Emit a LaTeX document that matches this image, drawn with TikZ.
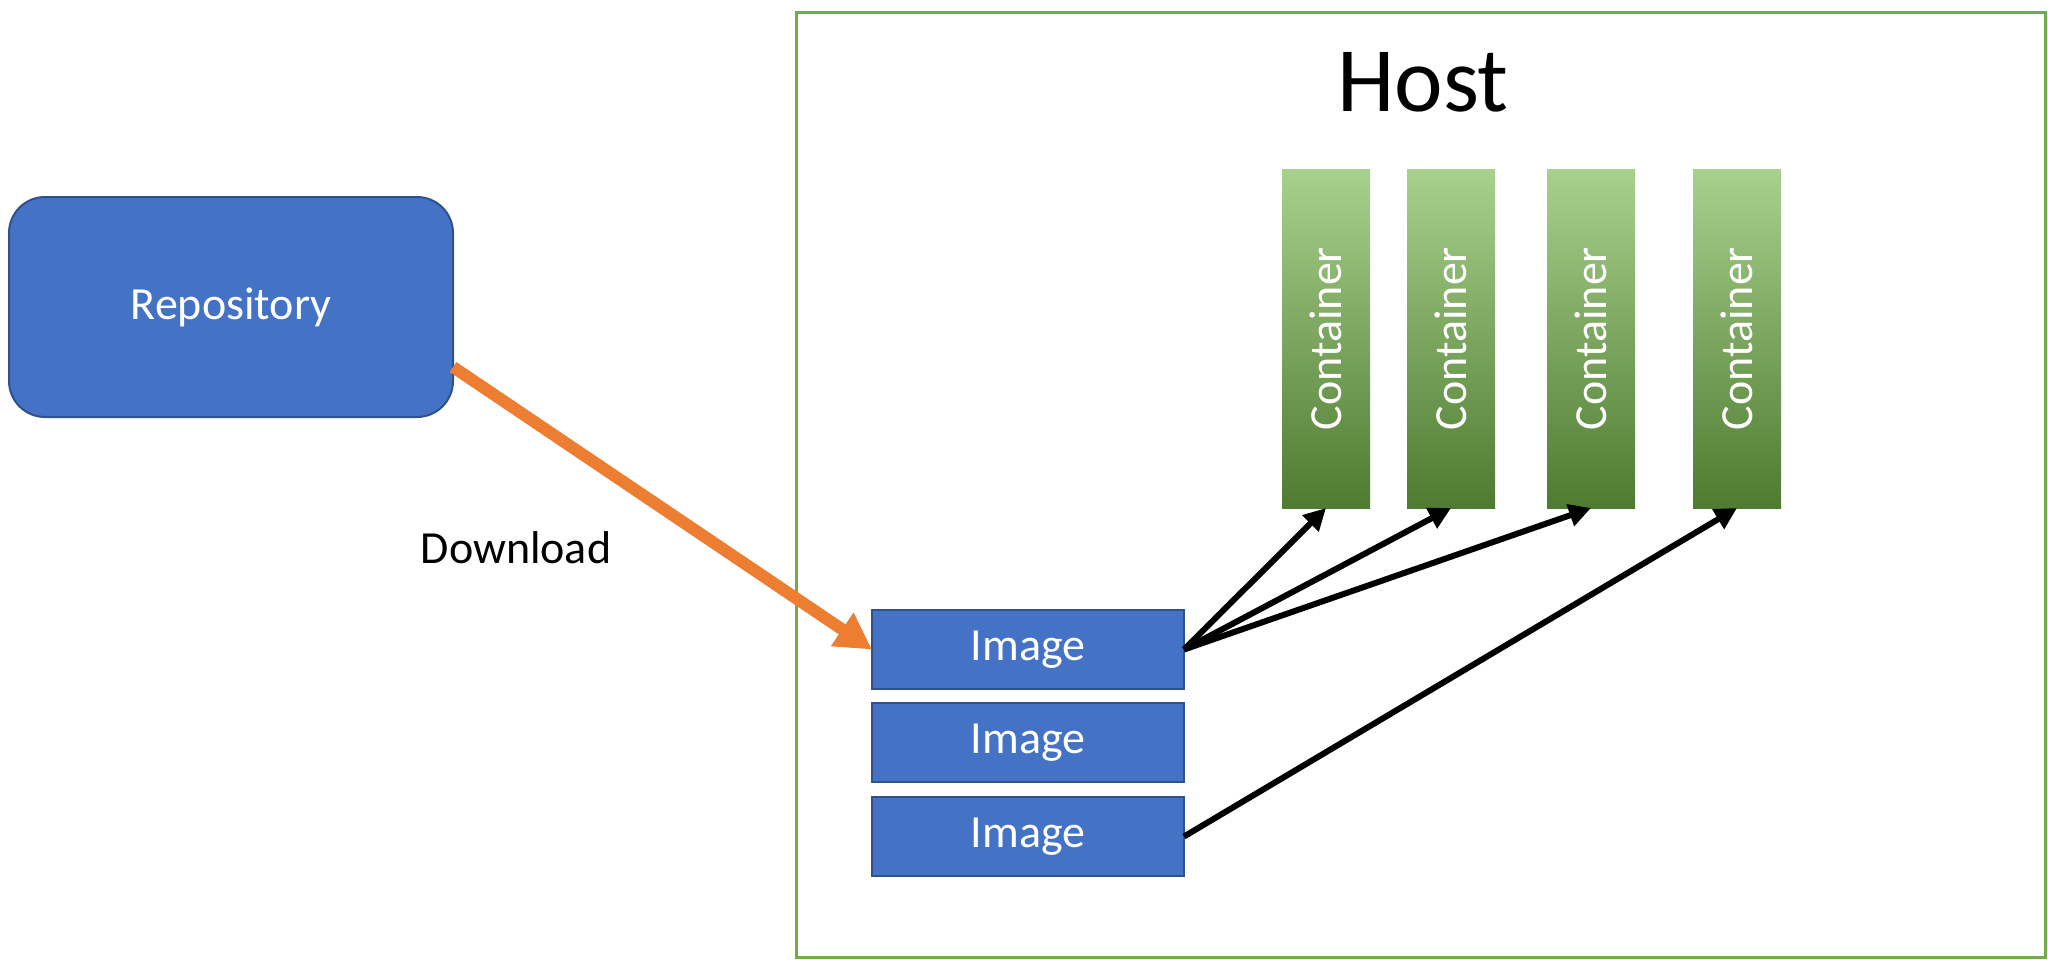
\documentclass[tikz,border=0pt]{standalone}
\usepackage{fontspec}
\setmainfont{Carlito}
\usepackage{graphicx}
\usetikzlibrary{arrows.meta}
\definecolor{blueF}{HTML}{4472C4}
\definecolor{blueD}{HTML}{2F528F}
\definecolor{greenL}{HTML}{70AD47}
\definecolor{gTop}{HTML}{A9D18E}
\definecolor{gMid}{HTML}{71AE46}
\definecolor{gBot}{HTML}{4E7B30}
\definecolor{orangeA}{HTML}{ED7D31}
\begin{document}
\begin{tikzpicture}[x=0.5pt,y=-0.5pt,
  txt/.style={font=\fontsize{23}{27}\selectfont},
  bluebox/.style={txt, draw=blueD, fill=blueF, line width=1pt, text=white, inner sep=0pt, outer sep=0pt},
  imgbox/.style={bluebox, minimum width=156pt, minimum height=39.5pt},
  cont/.style={txt, top color=gTop, middle color=gMid, bottom color=gBot, draw=none, minimum width=44pt, minimum height=169.5pt, inner sep=0pt, outer sep=0pt, text=white},
  conn/.style={line width=3pt, -{Triangle[length=11pt,width=11pt]}},
  dl/.style={draw=orangeA, line width=6pt, -{Triangle[length=18pt,width=19pt]}}]
\useasboundingbox (0,0) rectangle (2048,959);
\fill[white] (0,0) rectangle (2048,959);

\node[draw=greenL, line width=1.5pt, minimum width=624.5pt, minimum height=472.5pt, inner sep=0pt] (host) at (1420.5,484.5) {};
\node[anchor=base, font=\fontsize{46}{54}\selectfont] (hostlabel) at (1423,111) {Host};

\node[bluebox, rounded corners=18pt, minimum width=222pt, minimum height=110pt] (repo) at (231,307) {Repository};

\node[imgbox] (img1) at (1028,649.5) {Image};
\node[imgbox] (img2) at (1028,742.5) {Image};
\node[imgbox] (img3) at (1028,836.5) {Image};

\node[cont] (c1) at (1326,338.5) {\rotatebox{90}{Container}};
\node[cont] (c2) at (1451,338.5) {\rotatebox{90}{Container}};
\node[cont] (c3) at (1591,338.5) {\rotatebox{90}{Container}};
\node[cont] (c4) at (1737,338.5) {\rotatebox{90}{Container}};

\node[txt, anchor=base] (dltext) at (516,563) {Download};

\draw[dl] ([yshift=-30pt]repo.east) -- (img1.west);

\draw[conn] (img1.east) -- (c1.south);
\draw[conn] (img1.east) -- (c2.south);
\draw[conn] (img1.east) -- (c3.south);
\draw[conn] (img3.east) -- (c4.south);
\end{tikzpicture}
\end{document}
